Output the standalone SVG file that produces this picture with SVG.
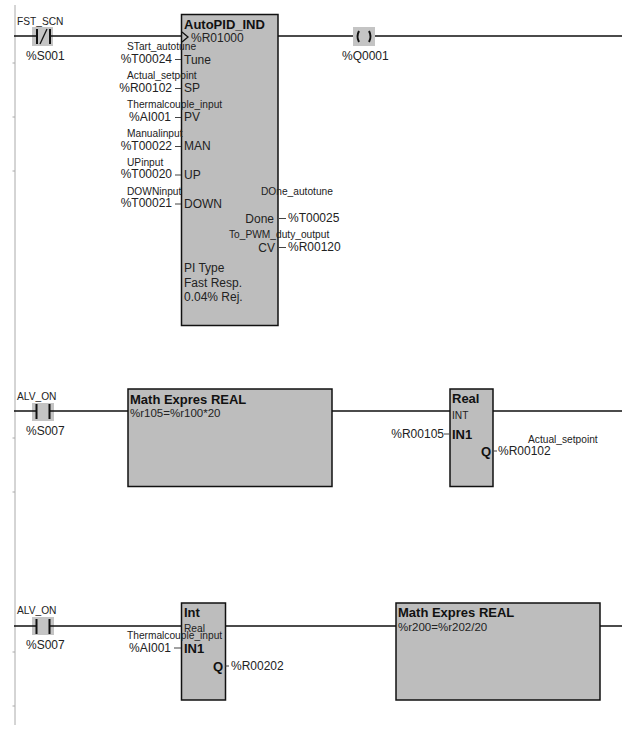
<svg xmlns="http://www.w3.org/2000/svg" width="642" height="743" viewBox="0 0 642 743">
<style>
text{font-family:"Liberation Sans",Arial,sans-serif;fill:#222;dominant-baseline:central}
.m{font-size:12px}
.e{font-size:11.500px}
.s{font-size:10.200px}
.b{font-size:13px;font-weight:bold;fill:#111}
.r{text-anchor:end}
.box{fill:#bdbdbd;stroke:#111;stroke-width:1.500}
.bg{fill:#c4c4c4}
.w{stroke:#111;stroke-width:1.300;fill:none}
.c{stroke:#111;stroke-width:2;fill:none}
.t{stroke:#444;stroke-width:1.100;fill:none}
.rail{stroke:#aaa;stroke-width:1;fill:none}
</style>
<g id="rail">
<path class="rail" d="M15 5V725M12.500 63H15M12.500 117H15M12.500 171H15M12.500 438H15M12.500 492H15M12.500 652H15M12.500 706H15"/>
</g>
<g id="connectors">
<path class="w" d="M14 36H181M278 36H622"/>
<path class="w" d="M14 411H128M332 411H450M493 411H622"/>
<path class="w" d="M14 626H181M226 626H396M600 626H622"/>
</g>
<g id="contact-fst-scn">
<rect class="bg" x="32" y="27" width="21" height="19"/>
<path class="w" d="M32 36H37M50 36H53"/>
<path class="c" d="M37 29V44M50 29V44"/>
<path class="w" d="M40 44L47 29"/>
<text class="s" x="17" y="21">FST_SCN</text>
<text class="m" x="26" y="56">%S001</text>
</g>
<g id="coil-q0001">
<rect class="bg" x="353" y="27" width="22" height="19"/>
<path class="c" d="M359 31Q356 36.500 359 42M369 31Q372 36.500 369 42"/>
<text class="m" x="342" y="56">%Q0001</text>
</g>
<g id="autopid-ind">
<rect class="box" x="181.500" y="14.500" width="96.500" height="311"/>
<path class="t" d="M175 59.500H181M175 88.500H181M175 117.500H181M175 146.500H181M175 175H181M175 204H181M279 218.500H286M279 247.500H286"/>
<path class="w" d="M182 32L188 37L182 42"/>
<text class="b" x="184" y="24">AutoPID_IND</text>
<text class="m" x="191" y="38">%R01000</text>
<text class="s" x="127" y="46">STart_autotune</text>
<text class="m r" x="172" y="59">%T00024</text>
<text class="m" x="184" y="60">Tune</text>
<text class="s" x="127" y="75">Actual_setpoint</text>
<text class="m r" x="172" y="88">%R00102</text>
<text class="m" x="184" y="88">SP</text>
<text class="s" x="127" y="104">Thermalcouple_input</text>
<text class="m r" x="171" y="117">%AI001</text>
<text class="m" x="184" y="117">PV</text>
<text class="s" x="127" y="133">Manualinput</text>
<text class="m r" x="172" y="146">%T00022</text>
<text class="m" x="184" y="146">MAN</text>
<text class="s" x="127" y="162">UPinput</text>
<text class="m r" x="172" y="174">%T00020</text>
<text class="m" x="184" y="175">UP</text>
<text class="s" x="127" y="191">DOWNinput</text>
<text class="m r" x="172" y="203">%T00021</text>
<text class="m" x="184" y="204">DOWN</text>
<text class="s" x="261" y="191">DOne_autotune</text>
<text class="m r" x="274" y="219">Done</text>
<text class="m" x="288" y="218">%T00025</text>
<text class="s" x="229" y="234">To_PWM_duty_output</text>
<text class="m r" x="275" y="248">CV</text>
<text class="m" x="288" y="247">%R00120</text>
<text class="m" x="184" y="268">PI Type</text>
<text class="m" x="184" y="283">Fast Resp.</text>
<text class="m" x="184" y="297">0.04% Rej.</text>
</g>
<g id="contact-alw-on-1">
<rect class="bg" x="32" y="403" width="22" height="18"/>
<path class="w" d="M32 411H36.500M49.500 411H54"/>
<path class="c" d="M36.500 404V419M49.500 404V419"/>
<text class="s" x="17" y="396.500">ALV_ON</text>
<text class="m" x="26" y="431">%S007</text>
</g>
<g id="math-1">
<rect class="box" x="128" y="389" width="204" height="97.500"/>
<text class="b" x="130" y="399">Math Expres REAL</text>
<text class="e" x="130" y="413">%r105=%r100*20</text>
</g>
<g id="real-block">
<rect class="box" x="450" y="389" width="43" height="97.500"/>
<path class="t" d="M444 434H450M493 451H497"/>
<text class="b" x="452" y="398">Real</text>
<text class="s" x="452" y="415">INT</text>
<text class="m r" x="444" y="434">%R00105</text>
<text class="b" x="452" y="434">IN1</text>
<text class="b r" x="491" y="451">Q</text>
<text class="m" x="498" y="451">%R00102</text>
<text class="s" x="528" y="439">Actual_setpoint</text>
</g>
<g id="contact-alw-on-2">
<rect class="bg" x="32" y="617" width="22" height="18"/>
<path class="w" d="M32 626H36.500M49.500 626H54"/>
<path class="c" d="M36.500 619V634M49.500 619V634"/>
<text class="s" x="17" y="610">ALV_ON</text>
<text class="m" x="26" y="645">%S007</text>
</g>
<g id="int-block">
<rect class="box" x="181.500" y="603" width="44" height="97"/>
<path class="t" d="M174 648H181M225.500 666H229"/>
<text class="b" x="184" y="612">Int</text>
<text class="s" x="184" y="628">Real</text>
<text class="s" x="127" y="635">Thermalcouple_input</text>
<text class="m r" x="171" y="648">%AI001</text>
<text class="b" x="184" y="648">IN1</text>
<text class="b r" x="223" y="666">Q</text>
<text class="m" x="231" y="666">%R00202</text>
</g>
<g id="math-2">
<rect class="box" x="396" y="603" width="204" height="97"/>
<text class="b" x="398" y="612">Math Expres REAL</text>
<text class="e" x="398" y="627">%r200=%r202/20</text>
</g>
</svg>
